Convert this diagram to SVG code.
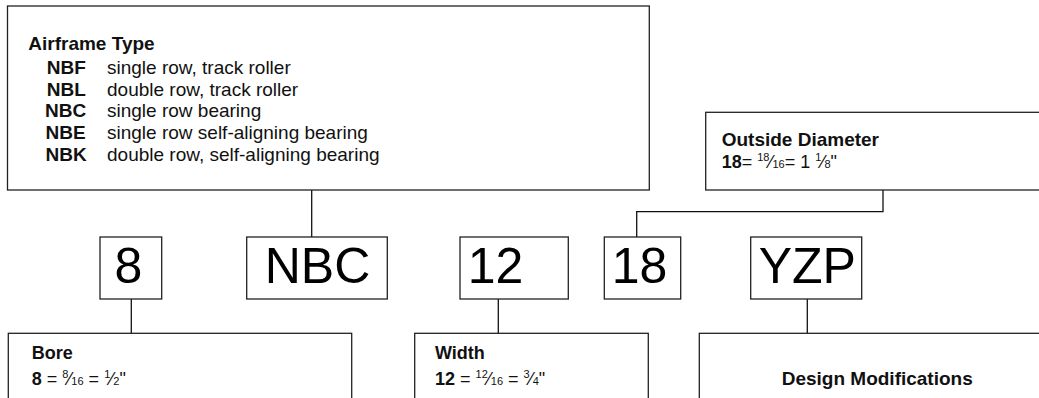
<svg xmlns="http://www.w3.org/2000/svg" width="1039" height="398" viewBox="0 0 1039 398">
<style>
.box{fill:#fff;stroke:#222;stroke-width:1.3}
.con{fill:none;stroke:#111;stroke-width:1.3}
.t{font-family:"Liberation Sans",Arial,sans-serif;font-size:19px;fill:#111}
.t2{font-family:"Liberation Sans",Arial,sans-serif;font-size:18px;fill:#111}
.b{font-weight:bold}
.sm{font-size:11px}
.big{font-family:"Liberation Sans",Arial,sans-serif;font-size:50px;fill:#000;text-anchor:middle}
</style>
<rect width="1039" height="398" fill="#fff"/>
<g id="connectors">
<path class="con" d="M311.7 190V237"/>
<path class="con" d="M883 190V211.7H636.7V237"/>
<path class="con" d="M131.3 299V333.3"/>
<path class="con" d="M498.3 299V333.3"/>
<path class="con" d="M807.3 299V333.3"/>
</g>
<g id="airframe-type">
<rect class="box" x="7.5" y="6" width="641.8" height="184"/>
<text class="t b" x="28.3" y="50">Airframe Type</text>
<text class="t b" x="46.7" y="74">NBF</text><text class="t" x="107" y="74">single row, track roller</text>
<text class="t b" x="46.7" y="95.7">NBL</text><text class="t" x="107" y="95.7">double row, track roller</text>
<text class="t b" x="45" y="117.3">NBC</text><text class="t" x="107" y="117.3">single row bearing</text>
<text class="t b" x="45.5" y="139">NBE</text><text class="t" x="107" y="139">single row self-aligning bearing</text>
<text class="t b" x="45.5" y="160.7">NBK</text><text class="t" x="107" y="160.7">double row, self-aligning bearing</text>
</g>
<g id="outside-diameter">
<rect class="box" x="705.7" y="112.3" width="340" height="77.7"/>
<text class="t b" x="721.7" y="145.7">Outside Diameter</text>
<text class="t2" x="721.7" y="168.3"><tspan class="b">18</tspan>= <tspan class="sm" dy="-7">18</tspan><tspan dy="7">⁄</tspan><tspan class="sm">16</tspan>= 1 <tspan class="sm" dy="-7">1</tspan><tspan dy="7">⁄</tspan><tspan class="sm">8</tspan>"</text>
</g>
<g id="code-8">
<rect class="box" x="100" y="237" width="61.7" height="62"/>
<text class="big" x="128.5" y="283.3">8</text>
</g>
<g id="code-nbc">
<rect class="box" x="246.7" y="237" width="140.6" height="62"/>
<text class="big" x="317.5" y="283.3">NBC</text>
</g>
<g id="code-12">
<rect class="box" x="460" y="237" width="108.3" height="62"/>
<text class="big" x="495.5" y="283.3">12</text>
</g>
<g id="code-18">
<rect class="box" x="604.3" y="237" width="76.4" height="62"/>
<text class="big" x="639.5" y="283.3">18</text>
</g>
<g id="code-yzp">
<rect class="box" x="750.7" y="237" width="111" height="62"/>
<text class="big" x="807.3" y="283.3">YZP</text>
</g>
<g id="bore">
<rect class="box" x="8.3" y="333.3" width="343.4" height="80"/>
<text class="t2 b" x="31.7" y="359.3">Bore</text>
<text class="t2" x="31.7" y="385"><tspan class="b">8</tspan> = <tspan class="sm" dy="-7">8</tspan><tspan dy="7">⁄</tspan><tspan class="sm">16</tspan> = <tspan class="sm" dy="-7">1</tspan><tspan dy="7">⁄</tspan><tspan class="sm">2</tspan>"</text>
</g>
<g id="width">
<rect class="box" x="414.7" y="333.3" width="233.6" height="80"/>
<text class="t2 b" x="435" y="359.3">Width</text>
<text class="t2" x="435" y="385"><tspan class="b">12</tspan> = <tspan class="sm" dy="-7">12</tspan><tspan dy="7">⁄</tspan><tspan class="sm">16</tspan> = <tspan class="sm" dy="-7">3</tspan><tspan dy="7">⁄</tspan><tspan class="sm">4</tspan>"</text>
</g>
<g id="design-modifications">
<rect class="box" x="699.3" y="333.3" width="360" height="80"/>
<text class="t b" x="781.7" y="385">Design Modifications</text>
</g>
</svg>
